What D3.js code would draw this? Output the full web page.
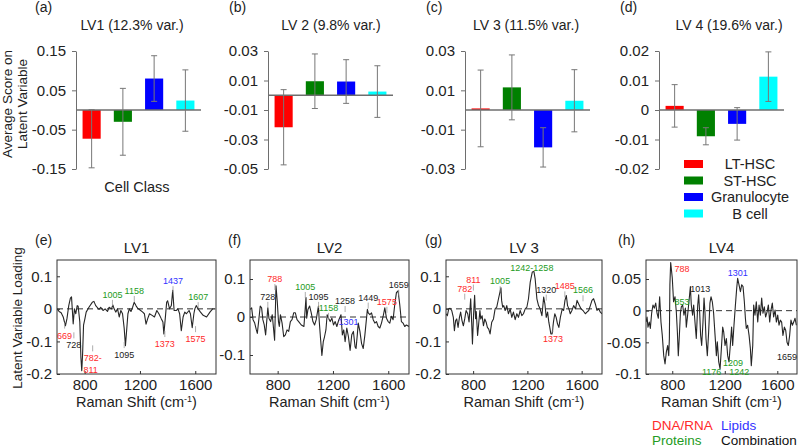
<!DOCTYPE html>
<html>
<head>
<meta charset="utf-8">
<script src="https://cdn.jsdelivr.net/npm/d3@7"></script>
<style>
body { margin: 0; background: #fff; }
svg { font-family: "Liberation Sans", Arial, sans-serif; }
</style>
</head>
<body>
<svg id="chart" width="800" height="448"></svg>
<script>
// ---- data ----
var cellClasses = ["LT-HSC", "ST-HSC", "Granulocyte", "B cell"];

var lv1Mean = [-0.073, -0.030, 0.080, 0.024];
var lv1Err  = [0.074, 0.085, 0.058, 0.078];
var lv2Mean = [-0.0217, 0.0095, 0.0093, 0.0025];
var lv2Err  = [0.0255, 0.0185, 0.0148, 0.0175];
var lv3Mean = [0.0008, 0.0115, -0.019, 0.0047];
var lv3Err  = [0.0195, 0.0165, 0.010, 0.0158];
var lv4Mean = [0.0014, -0.0089, -0.0047, 0.0113];
var lv4Err  = [0.0072, 0.0029, 0.0055, 0.0084];

var lv1Ticks = [-0.15, -0.05, 0.05, 0.15];
var lv2Ticks = [-0.05, -0.03, -0.01, 0.01, 0.03];
var lv3Ticks = [-0.03, -0.01, 0.01, 0.03];
var lv4Ticks = [-0.02, -0.01, 0, 0.01, 0.02];

var shiftTicks = [800, 1200, 1600];

var lv1Shift = [600,615,630,645,661,672,685,697,705,717,726,736,746,753,765,773,779,785,792,802,811,831,855,867,880,904,916,933,948,965,977,994,1004,1013,1025,1038,1050,1062,1074,1086,1095,1103,1113,1123,1135,1147,1158,1171,1183,1196,1220,1232,1244,1256,1269,1288,1305,1322,1337,1354,1366,1373,1385,1393,1400,1414,1427,1437,1447,1463,1475,1487,1499,1512,1524,1536,1555,1565,1578,1590,1597,1607,1621,1638,1657,1682,1706,1726,1745];
var lv1Loading = [0.0,-0.008,-0.012,-0.025,-0.052,-0.03,0.01,0.033,0.037,-0.046,0.0,-0.015,0.01,0.008,-0.04,-0.15,-0.19,-0.14,-0.05,-0.03,-0.01,0.005,0.02,0.023,0.01,-0.002,0.005,-0.005,0.0,-0.008,0.005,0.0,0.012,0.0,-0.01,0.0,-0.025,-0.005,-0.015,-0.06,-0.113,-0.07,-0.015,0.0,-0.008,0.005,0.02,0.01,0.002,-0.002,-0.01,-0.015,-0.047,-0.03,-0.015,-0.02,-0.025,-0.005,-0.015,-0.03,-0.04,-0.077,-0.02,0.02,0.025,0.0,0.01,0.057,-0.005,-0.005,0.0,-0.015,-0.067,-0.025,-0.01,-0.015,-0.005,-0.015,-0.058,-0.015,0.0,0.01,0.0,-0.01,-0.02,-0.025,-0.01,0.0,0.0];

var lv2Shift = [600,612,622,634,646,653,665,674,684,693,703,713,722,729,737,749,761,778,788,797,806,812,820,832,844,856,868,880,892,904,916,928,940,952,971,990,1005,1010,1019,1031,1043,1055,1067,1079,1095,1101,1110,1120,1130,1139,1149,1158,1168,1180,1192,1204,1216,1228,1240,1258,1268,1278,1288,1300,1312,1324,1336,1348,1360,1367,1376,1383,1395,1407,1419,1431,1449,1455,1467,1479,1491,1503,1515,1527,1539,1551,1563,1575,1587,1599,1611,1623,1635,1647,1659,1671,1683,1695,1707,1719,1731,1750];
var lv2Loading = [0.020,0.024,-0.007,-0.016,-0.034,-0.043,-0.003,0.029,0.024,-0.007,-0.021,-0.047,-0.007,0.024,-0.003,-0.012,0.006,-0.061,0.082,0.042,-0.012,-0.025,0.006,-0.016,-0.052,-0.047,-0.034,-0.038,-0.012,-0.007,0.011,0.011,-0.007,-0.012,-0.021,-0.025,0.051,-0.003,0.020,0.029,0.011,-0.012,-0.021,-0.007,0.029,-0.012,-0.056,-0.101,-0.065,-0.052,-0.034,0.006,-0.003,-0.012,-0.003,-0.021,-0.012,-0.025,-0.010,0.006,-0.047,-0.034,-0.065,-0.029,-0.052,-0.088,-0.047,-0.038,-0.079,-0.083,-0.047,-0.016,-0.038,-0.070,-0.083,-0.047,0.020,0.011,0.006,0.011,-0.007,-0.016,-0.012,-0.025,-0.029,-0.016,0.002,0.024,-0.003,-0.012,-0.016,0.002,-0.007,0.033,0.064,0.069,0.033,-0.012,-0.016,-0.025,-0.021,-0.025];

var lv3Shift = [600,610,620,630,642,654,662,671,679,689,699,708,718,728,738,748,760,770,782,789,795,803,811,818,823,833,842,850,856,866,876,886,896,905,915,925,937,950,962,974,987,1005,1010,1018,1026,1036,1048,1060,1073,1085,1097,1110,1122,1134,1147,1159,1171,1184,1196,1208,1221,1236,1248,1257,1270,1282,1294,1307,1320,1329,1339,1349,1358,1365,1373,1382,1392,1402,1412,1422,1432,1443,1457,1467,1477,1487,1496,1506,1516,1528,1541,1555,1566,1578,1595,1610,1627,1639,1652,1664,1676,1688,1701,1713,1725,1738,1750];
var lv3Loading = [-0.015,-0.021,0.000,0.002,-0.005,-0.026,-0.067,-0.036,-0.031,-0.057,-0.026,-0.010,-0.036,-0.052,-0.031,-0.005,-0.015,-0.040,0.031,-0.040,-0.108,-0.020,0.042,-0.030,-0.008,-0.082,-0.041,-0.005,-0.031,-0.021,-0.052,-0.031,-0.041,-0.057,-0.062,-0.077,-0.041,-0.031,0.000,0.005,0.031,0.065,0.026,0.005,0.010,-0.005,0.010,-0.015,0.000,-0.026,-0.010,-0.033,-0.015,-0.026,-0.005,-0.021,-0.015,0.000,0.005,0.031,0.082,0.113,0.115,0.093,0.031,0.010,0.000,-0.021,0.036,0.015,-0.026,-0.010,-0.041,-0.057,-0.077,-0.077,-0.041,-0.015,-0.026,-0.046,-0.057,-0.026,0.000,-0.005,0.026,0.041,0.010,0.000,-0.015,-0.005,0.010,0.000,0.026,0.015,0.000,-0.005,-0.015,-0.010,-0.005,0.010,0.026,0.031,0.015,-0.005,0.000,-0.010,-0.015];

var lv4Shift = [600,608,615,625,633,643,653,663,674,684,694,704,714,724,735,745,755,765,773,778,782,788,800,810,821,831,839,846,853,862,869,879,889,900,907,917,927,938,945,955,963,973,983,994,1001,1009,1016,1024,1034,1042,1049,1057,1067,1077,1087,1095,1105,1115,1126,1136,1143,1154,1164,1174,1184,1192,1202,1212,1222,1232,1242,1252,1260,1270,1280,1291,1298,1308,1319,1329,1339,1349,1357,1364,1374,1385,1395,1402,1413,1420,1430,1440,1451,1461,1471,1481,1491,1501,1511,1522,1532,1542,1552,1562,1572,1583,1593,1603,1613,1623,1633,1643,1654,1664,1674,1684,1694,1704,1715,1725,1735,1745];
var lv4Loading = [-0.018,-0.010,-0.026,-0.018,-0.028,-0.004,0.009,0.004,0.012,-0.004,-0.012,0.022,-0.018,-0.039,-0.071,-0.084,-0.065,-0.055,-0.071,-0.044,0.041,0.076,0.052,0.014,0.022,-0.002,-0.034,-0.071,-0.044,-0.004,0.006,0.009,-0.007,0.004,-0.026,-0.007,0.014,0.038,0.009,-0.007,0.009,-0.018,-0.044,0.009,0.025,-0.004,-0.039,-0.055,-0.018,0.020,-0.002,-0.044,-0.071,-0.034,0.012,0.022,0.014,-0.004,-0.039,-0.071,-0.049,-0.081,-0.092,-0.060,-0.026,-0.034,-0.055,-0.044,-0.071,-0.081,-0.055,-0.026,-0.055,-0.023,0.006,0.036,0.051,0.041,0.030,0.041,0.038,0.014,-0.012,-0.028,-0.023,-0.039,-0.060,-0.087,-0.055,0.009,-0.007,0.014,-0.018,0.009,-0.007,0.020,-0.004,0.006,-0.010,-0.002,0.009,-0.018,0.001,0.012,-0.010,0.001,-0.018,-0.007,-0.023,-0.015,-0.018,-0.039,-0.026,-0.031,-0.050,-0.055,-0.039,-0.015,-0.023,-0.018,-0.012,-0.023];

// peak labels: wavenumber / value where the label sits, and band type
var lv1Peaks = [
  {text: "669", shift: 655, at: -0.082, type: "dna"},
  {text: "728", shift: 722, at: -0.112, type: "combo"},
  {text: "782-", shift: 858, at: -0.152, type: "dna"},
  {text: "811", shift: 843, at: -0.188, type: "dna", noLead: true},
  {text: "1005", shift: 1001, at: 0.043, type: "protein"},
  {text: "1095", shift: 1086, at: -0.142, type: "combo"},
  {text: "1158", shift: 1159, at: 0.055, type: "protein"},
  {text: "1373", shift: 1380, at: -0.108, type: "dna"},
  {text: "1437", shift: 1439, at: 0.085, type: "lipid"},
  {text: "1575", shift: 1602, at: -0.093, type: "dna"},
  {text: "1607", shift: 1621, at: 0.036, type: "protein"}
];
var lv2Peaks = [
  {text: "728", shift: 729, at: 0.053, type: "combo"},
  {text: "788", shift: 780, at: 0.100, type: "dna"},
  {text: "1005", shift: 1000, at: 0.079, type: "protein"},
  {text: "1095", shift: 1096, at: 0.053, type: "combo"},
  {text: "1158", shift: 1168, at: 0.024, type: "protein"},
  {text: "1258", shift: 1288, at: 0.042, type: "combo"},
  {text: "1301", shift: 1312, at: -0.012, type: "lipid", noLead: true},
  {text: "1449", shift: 1455, at: 0.051, type: "combo"},
  {text: "1575", shift: 1590, at: 0.040, type: "dna"},
  {text: "1659", shift: 1676, at: 0.085, type: "combo"}
];
var lv3Peaks = [
  {text: "782", shift: 738, at: 0.062, type: "dna"},
  {text: "811", shift: 802, at: 0.090, type: "dna"},
  {text: "1005", shift: 999, at: 0.085, type: "protein"},
  {text: "1242-1258", shift: 1233, at: 0.124, type: "protein", noLead: true},
  {text: "1320", shift: 1339, at: 0.059, type: "combo"},
  {text: "1373", shift: 1388, at: -0.093, type: "dna"},
  {text: "1485", shift: 1476, at: 0.069, type: "dna"},
  {text: "1566", shift: 1610, at: 0.057, type: "protein"}
];
var lv4Peaks = [
  {text: "788", shift: 874, at: 0.066, type: "dna", noLead: true},
  {text: "853", shift: 874, at: 0.014, type: "protein", noLead: true},
  {text: "1013", shift: 1014, at: 0.035, type: "combo", noLead: true},
  {text: "1301", shift: 1298, at: 0.060, type: "lipid", noLead: true},
  {text: "1176", shift: 1100, at: -0.097, type: "protein", noLead: true},
  {text: "1209", shift: 1262, at: -0.083, type: "protein", noLead: true},
  {text: "1242", shift: 1310, at: -0.097, type: "protein", noLead: true},
  {text: "1659", shift: 1674, at: -0.073, type: "combo", noLead: true}
];

// ---- styles ----
var barColors = ["#ff0000", "#008000", "#0000ff", "#00ffff"];
var peakColors = {dna: "#ff2a2a", protein: "#239b23", lipid: "#3333ff", combo: "#222222"};

var svg = d3.select("#chart");

function num(d) { return String(+d.toFixed(3)); }

function drawBarPanel(p) {
  var g = svg.append("g");
  var x = d3.scaleBand().domain(cellClasses)
      .range([p.x0, p.x0 + 125])
      .paddingInner(0.42).paddingOuter(0.21);
  var y = d3.scaleLinear().domain(p.domain).range([169, 51]);

  var rows = cellClasses.map(function (c, i) {
    return {cls: c, mean: p.mean[i], err: p.err[i], color: barColors[i]};
  });

  g.selectAll("rect.bar").data(rows).enter().append("rect")
      .attr("class", "bar")
      .attr("x", function (d) { return x(d.cls); })
      .attr("width", x.bandwidth())
      .attr("y", function (d) { return Math.min(y(d.mean), y(0)); })
      .attr("height", function (d) { return Math.abs(y(d.mean) - y(0)); })
      .attr("fill", function (d) { return d.color; });

  g.append("line")
      .attr("x1", p.x0).attr("x2", p.x0 + 125)
      .attr("y1", y(0)).attr("y2", y(0))
      .attr("stroke", "#6e6e6e").attr("stroke-width", 1.3);

  var eb = g.selectAll("g.err").data(rows).enter().append("g")
      .attr("class", "err")
      .attr("stroke", "#777").attr("stroke-width", 1);
  eb.append("line")
      .attr("x1", function (d) { return x(d.cls) + x.bandwidth() / 2; })
      .attr("x2", function (d) { return x(d.cls) + x.bandwidth() / 2; })
      .attr("y1", function (d) { return y(d.mean - d.err); })
      .attr("y2", function (d) { return y(d.mean + d.err); });
  [-1, 1].forEach(function (s) {
    eb.append("line")
        .attr("x1", function (d) { return x(d.cls) + x.bandwidth() / 2 - 3; })
        .attr("x2", function (d) { return x(d.cls) + x.bandwidth() / 2 + 3; })
        .attr("y1", function (d) { return y(d.mean + s * d.err); })
        .attr("y2", function (d) { return y(d.mean + s * d.err); });
  });

  var ax = g.append("g")
      .attr("transform", "translate(" + p.x0 + ",0)")
      .call(d3.axisLeft(y).tickValues(p.ticks).tickSize(4).tickSizeOuter(0)
          .tickPadding(6).tickFormat(num));
  ax.select(".domain").attr("stroke", "#6e6e6e");
  ax.selectAll(".tick line").attr("stroke", "#6e6e6e");
  ax.selectAll("text").attr("font-size", 15).attr("fill", "#222")
      .attr("font-family", "Liberation Sans, Arial, sans-serif");

  g.append("text").attr("x", p.titleX).attr("y", 30)
      .attr("text-anchor", "middle").attr("font-size", 14).attr("fill", "#222")
      .text(p.title);
  g.append("text").attr("x", p.tagX).attr("y", 12)
      .attr("font-size", 14).attr("fill", "#222").text(p.tag);
}

function drawSpectrum(p) {
  var g = svg.append("g");
  var top = 260, bottom = 374;
  var x = d3.scaleLinear().domain([600, 1750]).range([p.left, p.right]);
  var y = d3.scaleLinear().domain(p.domain).range([bottom, top]);

  var clipId = "clip-" + p.tag.replace(/[()]/g, "");
  svg.append("clipPath").attr("id", clipId).append("rect")
      .attr("x", p.left).attr("y", top)
      .attr("width", p.right - p.left).attr("height", bottom - top);

  g.append("line")
      .attr("x1", p.left).attr("x2", p.right)
      .attr("y1", y(0)).attr("y2", y(0))
      .attr("stroke", "#333").attr("stroke-width", 1)
      .attr("stroke-dasharray", "6,4");

  var pts = d3.zip(p.shift, p.loading);
  var line = d3.line()
      .x(function (d) { return x(d[0]); })
      .y(function (d) { return y(d[1]); });
  g.append("path").datum(pts)
      .attr("clip-path", "url(#" + clipId + ")")
      .attr("d", line)
      .attr("fill", "none").attr("stroke", "#262626").attr("stroke-width", 1.1)
      .attr("stroke-linejoin", "round");

  g.append("rect")
      .attr("x", p.left).attr("y", top)
      .attr("width", p.right - p.left).attr("height", bottom - top)
      .attr("fill", "none").attr("stroke", "#333").attr("stroke-width", 1);

  var xa = g.append("g").attr("transform", "translate(0," + bottom + ")")
      .call(d3.axisBottom(x).tickValues(shiftTicks).tickSize(-3).tickPadding(5)
          .tickFormat(d3.format("d")));
  var ya = g.append("g").attr("transform", "translate(" + p.left + ",0)")
      .call(d3.axisLeft(y).tickValues(p.ticks).tickSize(-3).tickPadding(5).tickFormat(num));
  [xa, ya].forEach(function (a) {
    a.select(".domain").remove();
    a.selectAll(".tick line").attr("stroke", "#333");
    a.selectAll("text").attr("font-size", 15).attr("fill", "#222")
        .attr("font-family", "Liberation Sans, Arial, sans-serif");
  });

  // peak labels
  var pk = g.selectAll("g.peak").data(p.peaks).enter().append("g").attr("class", "peak");
  pk.append("text")
      .attr("x", function (d) { return x(d.shift); })
      .attr("y", function (d) { return y(d.at) + 3; })
      .attr("text-anchor", "middle")
      .attr("font-size", 9)
      .attr("fill", function (d) { return peakColors[d.type]; })
      .text(function (d) { return d.text; });
  pk.filter(function (d) { return !d.noLead; }).append("line")
      .attr("x1", function (d) { return x(d.shift); })
      .attr("x2", function (d) { return x(d.shift); })
      .attr("y1", function (d) { return d.at > 0 ? y(d.at) + 5 : y(d.at) - 7; })
      .attr("y2", function (d) { return d.at > 0 ? y(d.at) + 11 : y(d.at) - 13; })
      .attr("stroke", "#999").attr("stroke-width", 0.8);

  var mid = (p.left + p.right) / 2;
  g.append("text").attr("x", mid).attr("y", 253)
      .attr("text-anchor", "middle").attr("font-size", 15).attr("fill", "#222")
      .text(p.title);
  g.append("text").attr("x", p.tagX).attr("y", 245)
      .attr("font-size", 14).attr("fill", "#222").text(p.tag);

  var xl = g.append("text").attr("x", mid).attr("y", 407)
      .attr("text-anchor", "middle").attr("font-size", 14.5).attr("fill", "#222");
  xl.append("tspan").text("Raman Shift (cm");
  xl.append("tspan").attr("dy", -5).attr("font-size", 9).text("-1");
  xl.append("tspan").attr("dy", 5).text(")");
}

drawBarPanel({mean: lv1Mean, err: lv1Err, ticks: lv1Ticks, domain: [-0.15, 0.15],
  x0: 76, title: "LV1 (12.3% var.)", titleX: 132, tag: "(a)", tagX: 35});
drawBarPanel({mean: lv2Mean, err: lv2Err, ticks: lv2Ticks, domain: [-0.05, 0.03],
  x0: 268, title: "LV 2 (9.8% var.)", titleX: 331, tag: "(b)", tagX: 229});
drawBarPanel({mean: lv3Mean, err: lv3Err, ticks: lv3Ticks, domain: [-0.03, 0.03],
  x0: 465, title: "LV 3 (11.5% var.)", titleX: 526, tag: "(c)", tagX: 426});
drawBarPanel({mean: lv4Mean, err: lv4Err, ticks: lv4Ticks, domain: [-0.02, 0.02],
  x0: 659, title: "LV 4 (19.6% var.)", titleX: 729, tag: "(d)", tagX: 620});

// top y label + x label
svg.append("text").attr("transform", "translate(12,104) rotate(-90)")
    .attr("text-anchor", "middle").attr("font-size", 13.5).attr("fill", "#222")
    .text("Average Score on");
svg.append("text").attr("transform", "translate(27,104) rotate(-90)")
    .attr("text-anchor", "middle").attr("font-size", 13.5).attr("fill", "#222")
    .text("Latent Variable");
svg.append("text").attr("x", 137).attr("y", 192)
    .attr("text-anchor", "middle").attr("font-size", 14.5).attr("fill", "#222")
    .text("Cell Class");

// top legend
var leg = svg.append("g").selectAll("g").data(cellClasses).enter().append("g")
    .attr("transform", function (d, i) { return "translate(0," + (164 + i * 16.5) + ")"; });
leg.append("rect").attr("x", 684).attr("y", -4).attr("width", 19).attr("height", 8)
    .attr("fill", function (d, i) { return barColors[i]; });
leg.append("text").attr("x", 750).attr("y", 5).attr("text-anchor", "middle")
    .attr("font-size", 14.5).attr("fill", "#222").text(function (d) { return d; });

drawSpectrum({shift: lv1Shift, loading: lv1Loading, peaks: lv1Peaks, domain: [-0.2, 0.15],
  ticks: [-0.2, -0.1, 0, 0.1], left: 57, right: 216, title: "LV1", tag: "(e)", tagX: 35});
drawSpectrum({shift: lv2Shift, loading: lv2Loading, peaks: lv2Peaks, domain: [-0.15, 0.15],
  ticks: [-0.1, 0, 0.1], left: 250, right: 409, title: "LV2", tag: "(f)", tagX: 228});
drawSpectrum({shift: lv3Shift, loading: lv3Loading, peaks: lv3Peaks, domain: [-0.2, 0.15],
  ticks: [-0.2, -0.1, 0, 0.1], left: 446, right: 602, title: "LV 3", tag: "(g)", tagX: 425});
drawSpectrum({shift: lv4Shift, loading: lv4Loading, peaks: lv4Peaks, domain: [-0.1, 0.08],
  ticks: [-0.1, -0.05, 0, 0.05], left: 646, right: 797, title: "LV4", tag: "(h)", tagX: 618});

svg.append("text").attr("transform", "translate(22,318) rotate(-90)")
    .attr("text-anchor", "middle").attr("font-size", 13.5).attr("fill", "#222")
    .text("Latent Variable Loading");

// bottom legend
var bandLegend = [
  {text: "DNA/RNA", type: "dna", x: 652, y: 430},
  {text: "Lipids", type: "lipid", x: 721, y: 430},
  {text: "Proteins", type: "protein", x: 652, y: 445},
  {text: "Combination", type: "combo", x: 721, y: 445}
];
svg.append("g").selectAll("text").data(bandLegend).enter().append("text")
    .attr("x", function (d) { return d.x; })
    .attr("y", function (d) { return d.y; })
    .attr("font-size", 13.5)
    .attr("fill", function (d) { return d.type === "combo" ? "#111" : peakColors[d.type]; })
    .text(function (d) { return d.text; });
</script>
</body>
</html>
